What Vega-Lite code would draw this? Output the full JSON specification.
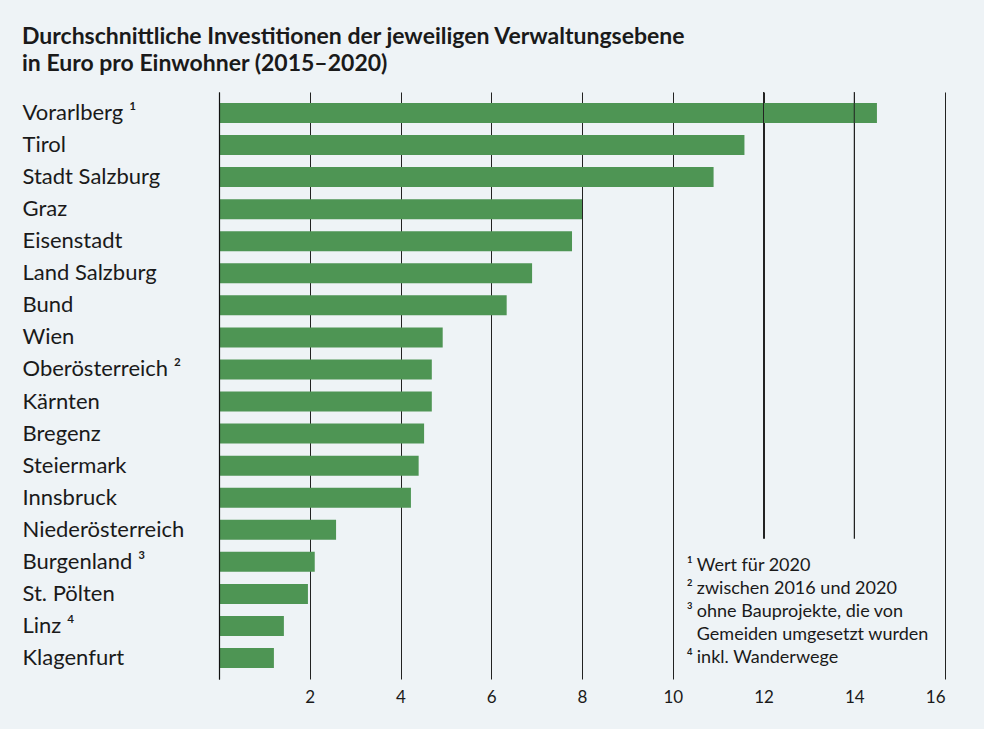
{
  "$schema": "https://vega.github.io/schema/vega-lite/v6.json",
  "autosize": "none",
  "width": 726,
  "height": 587,
  "padding": {"left": 219, "top": 92, "right": 39, "bottom": 50},
  "background": "#eef3f6",
  "title": {
    "text": ["Durchschnittliche Investitionen der jeweiligen Verwaltungsebene", "in Euro pro Einwohner (2015–2020)"],
    "anchor": "start",
    "frame": "group",
    "dx": -197,
    "offset": 16,
    "font": "Lato",
    "fontSize": 23,
    "fontWeight": "bold",
    "lineHeight": 27,
    "color": "#1a1a1a"
  },
  "config": {
    "view": {"stroke": null},
    "axis": {"labelFont": "Lato", "labelColor": "#1a1a1a"}
  },
  "layer": [
    {
      "data": {
        "values": [
          {"name": "Vorarlberg ¹", "value": 14.5},
          {"name": "Tirol", "value": 11.58},
          {"name": "Stadt Salzburg", "value": 10.9},
          {"name": "Graz", "value": 8.0},
          {"name": "Eisenstadt", "value": 7.78},
          {"name": "Land Salzburg", "value": 6.9},
          {"name": "Bund", "value": 6.34},
          {"name": "Wien", "value": 4.93},
          {"name": "Oberösterreich ²", "value": 4.69},
          {"name": "Kärnten", "value": 4.69},
          {"name": "Bregenz", "value": 4.52},
          {"name": "Steiermark", "value": 4.4},
          {"name": "Innsbruck", "value": 4.23},
          {"name": "Niederösterreich", "value": 2.58},
          {"name": "Burgenland ³", "value": 2.11},
          {"name": "St. Pölten", "value": 1.96},
          {"name": "Linz ⁴", "value": 1.43},
          {"name": "Klagenfurt", "value": 1.21}
        ]
      },
      "mark": {"type": "bar", "color": "#4e9554"},
      "encoding": {
        "y": {
          "field": "name",
          "type": "nominal",
          "sort": null,
          "scale": {"paddingInner": 0.376, "paddingOuter": 0.343},
          "axis": {
            "title": null,
            "ticks": false,
            "tickSize": 0,
            "domain": true,
            "domainColor": "#111111",
            "domainWidth": 1.2,
            "labelAlign": "left",
            "labelPadding": 197,
            "labelFontSize": 22,
            "zindex": 1
          }
        },
        "x": {
          "field": "value",
          "type": "quantitative",
          "scale": {"domain": [0, 16], "nice": false},
          "axis": {
            "title": null,
            "values": [0, 2, 4, 6, 8, 10, 12, 14, 16],
            "labelExpr": "datum.value == 0 ? '' : datum.label",
            "domain": false,
            "ticks": false,
            "grid": true,
            "gridColor": "#222222",
            "gridWidth": 1,
            "labelFontSize": 17,
            "labelPadding": 10,
            "zindex": 0
          }
        }
      }
    },
    {
      "data": {"values": [{"g": 12}, {"g": 14}]},
      "mark": {"type": "rule", "color": "#222222", "strokeWidth": 1},
      "encoding": {"x": {"field": "g", "type": "quantitative"}}
    },
    {
      "data": {
        "values": [
          {"row": "Burgenland ³", "x0": 10.1, "x1": 15.9},
          {"row": "St. Pölten", "x0": 10.1, "x1": 15.9},
          {"row": "Linz ⁴", "x0": 10.1, "x1": 15.9},
          {"row": "Klagenfurt", "x0": 10.1, "x1": 15.9}
        ]
      },
      "mark": {"type": "rect", "color": "#eef3f6", "height": {"band": 2.3}},
      "encoding": {
        "y": {"field": "row", "type": "nominal", "sort": null},
        "x": {"field": "x0", "type": "quantitative"},
        "x2": {"field": "x1"}
      }
    },
    {
      "data": {
        "values": [
          {
            "supPos": 10.31,
            "textPos": 10.53,
            "row": "Burgenland ³",
            "sup": ["¹", "²", "³", "\u200b", "⁴"],
            "note": ["Wert für 2020", "zwischen 2016 und 2020", "ohne Bauprojekte, die von", "Gemeiden umgesetzt wurden", "inkl. Wanderwege"]
          }
        ]
      },
      "layer": [
        {
          "mark": {"type": "text", "align": "left", "baseline": "top", "font": "Lato", "fontSize": 18, "lineHeight": 23, "color": "#1a1a1a", "dy": -5},
          "encoding": {
            "x": {"field": "supPos", "type": "quantitative"},
            "y": {"field": "row", "type": "nominal", "sort": null},
            "text": {"field": "sup"}
          }
        },
        {
          "mark": {"type": "text", "align": "left", "baseline": "top", "font": "Lato", "fontSize": 18, "lineHeight": 23, "color": "#1a1a1a", "dy": -5},
          "encoding": {
            "x": {"field": "textPos", "type": "quantitative"},
            "y": {"field": "row", "type": "nominal", "sort": null},
            "text": {"field": "note"}
          }
        }
      ]
    }
  ]
}
